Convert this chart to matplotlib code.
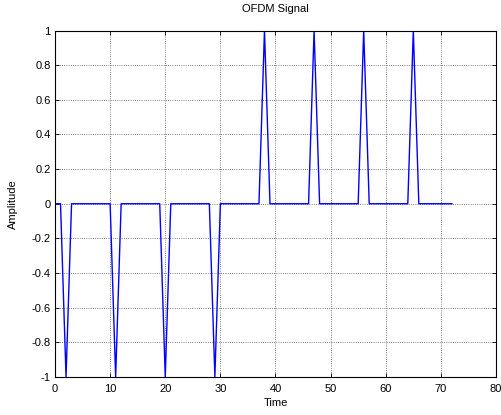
import numpy as np
import matplotlib
matplotlib.use('Agg')
import matplotlib.pyplot as plt
from matplotlib.ticker import FormatStrFormatter

plt.rcParams['font.family'] = ['Liberation Sans', 'DejaVu Sans']

# sample index and amplitude
t = list(range(0, 73))
amplitude = [0, 0, -1, 0, 0, 0, 0, 0, 0, 0,
             0, -1, 0, 0, 0, 0, 0, 0, 0, 0,
             -1, 0, 0, 0, 0, 0, 0, 0, 0, -1,
             0, 0, 0, 0, 0, 0, 0, 0, 1, 0,
             0, 0, 0, 0, 0, 0, 0, 1, 0, 0,
             0, 0, 0, 0, 0, 0, 1, 0, 0, 0,
             0, 0, 0, 0, 0, 1, 0, 0, 0, 0,
             0, 0, 0]

x_ticks = [0, 10, 20, 30, 40, 50, 60, 70, 80]
y_ticks = [-1, -0.8, -0.6, -0.4, -0.2, 0, 0.2, 0.4, 0.6, 0.8, 1]

fig = plt.figure(figsize=(5.01, 4.15), dpi=100)
ax = fig.add_axes([0.1098, 0.0916, 0.8802, 0.8349])

ax.plot(t, amplitude, color='#0000ff', linewidth=1.0)

ax.set_xlim(0, 80)
ax.set_ylim(-1, 1)
ax.set_xticks(x_ticks)
ax.set_yticks(y_ticks)
ax.yaxis.set_major_formatter(FormatStrFormatter('%g'))
ax.grid(True, color='#555555', linestyle=':', linewidth=0.6)
ax.tick_params(direction='in', length=3, width=0.6, labelsize=8, top=True, right=True)
ax.tick_params(axis='x', pad=5)
ax.tick_params(axis='y', pad=3)
for s in ax.spines.values():
    s.set_linewidth(0.8)

ax.set_title('OFDM Signal', fontsize=8, pad=13)
ax.set_xlabel('Time', fontsize=8, labelpad=3)
ax.set_ylabel('Amplitude', fontsize=8, labelpad=10)

fig.savefig('out.png', dpi=100)
